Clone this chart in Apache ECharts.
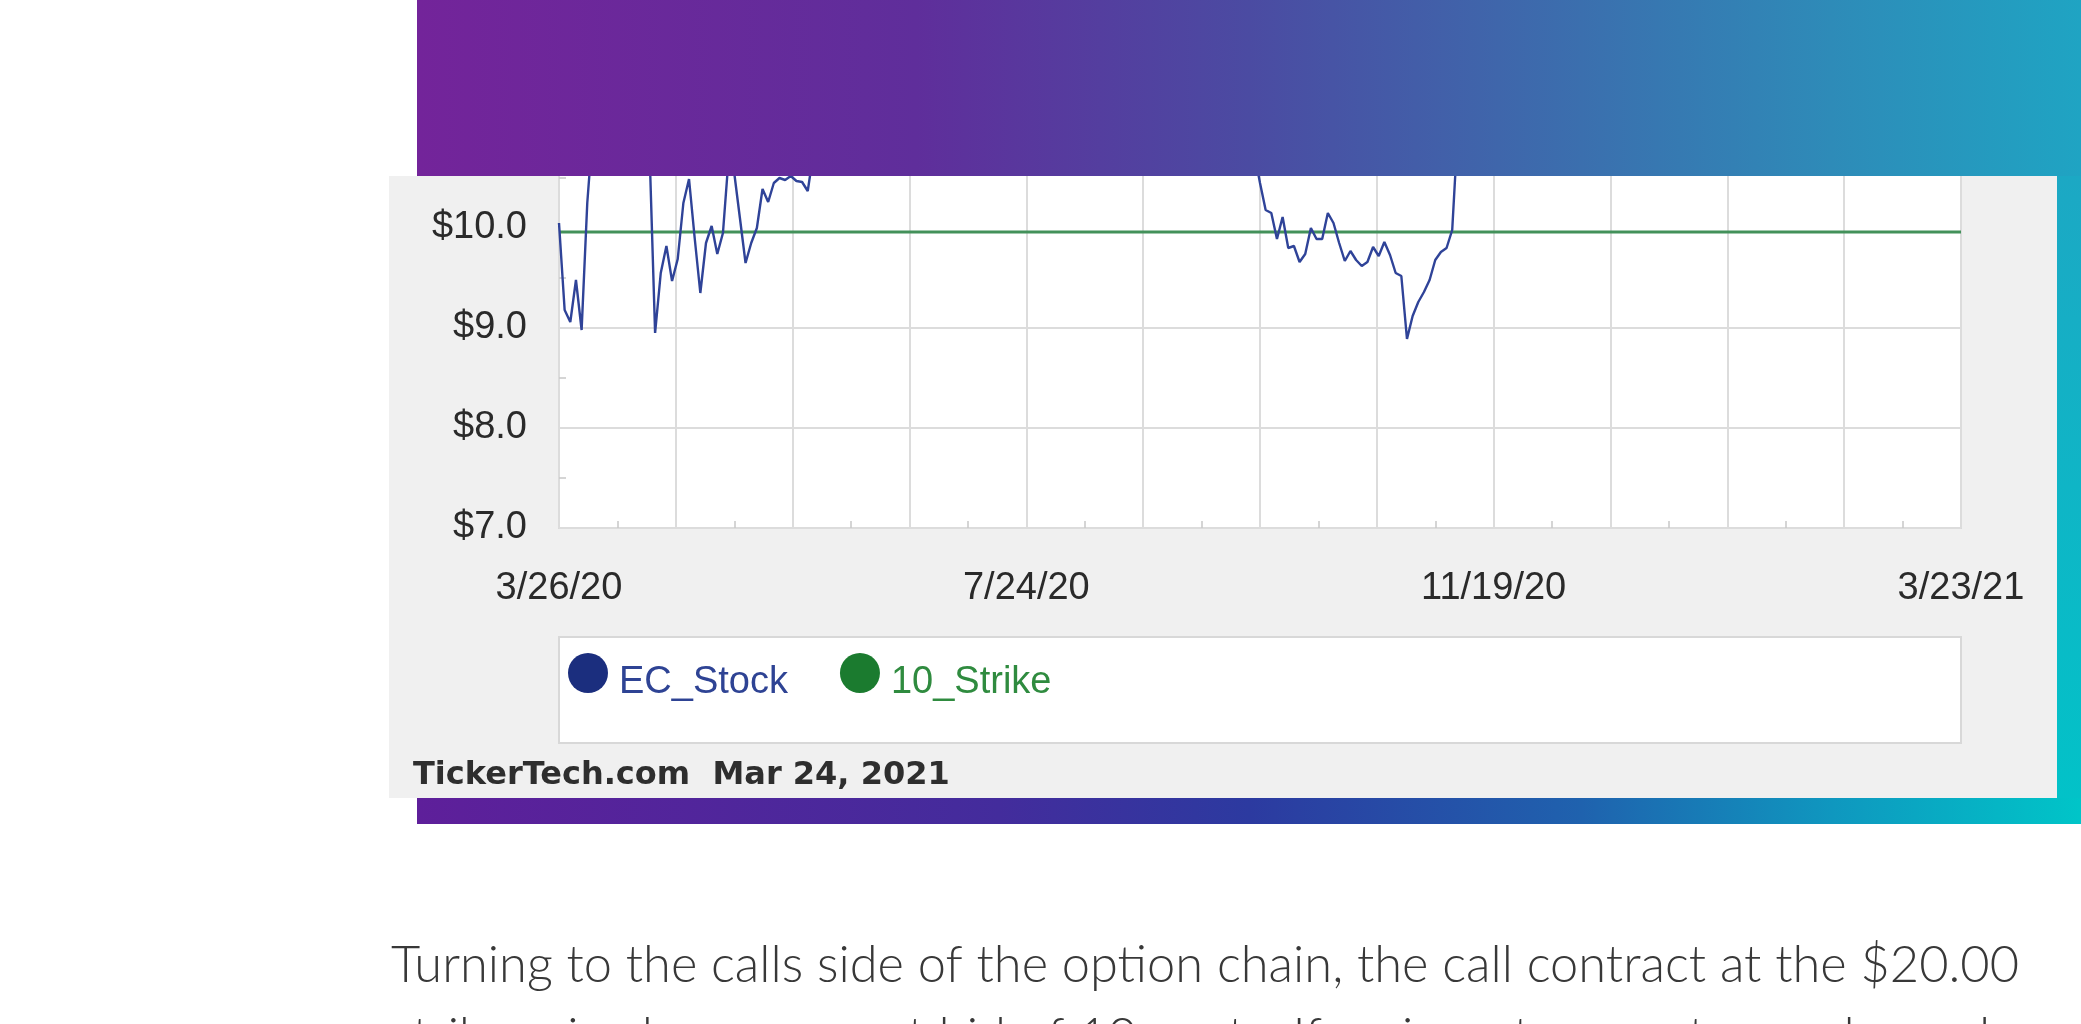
<!DOCTYPE html>
<html>
<head>
<meta charset="utf-8">
<title>EC_Stock vs 10_Strike</title>
<script src="https://cdn.jsdelivr.net/npm/echarts@6/dist/echarts.min.js"></script>
<style>
  html, body { margin: 0; padding: 0; background: #fff; overflow: hidden; }
  #chart { width: 2081px; height: 1024px; }
</style>
</head>
<body>
<div id="chart"></div>
<script>
// x labels sit on every 4th vertical grid line (12 sections in total)
const dateLabels = ['3/26/20', '7/24/20', '11/19/20', '3/23/21']
const priceTicks = [7, 8, 9, 10, 11, 12]
// drawn a hair under the $10 grid line in the picture
const strikePrice = 9.96
const legendNames = ['EC_Stock', '10_Strike']
const legendColors = ['#2e4394', '#2f8b3f']

// daily closes, 3/26/20 .. 3/23/21 (values above $10.5 are hidden behind the banner, estimated)
const stockPrices = [
  10.05, 9.18, 9.06, 9.48, 8.98, 10.25, 11.0, 11.4, 11.2, 11.6,
  11.9, 11.5, 11.8, 12.1, 11.7, 11.3, 10.8, 8.95, 9.55, 9.82,
  9.47, 9.69, 10.25, 10.49, 9.9, 9.35, 9.85, 10.02, 9.74, 9.95,
  10.7, 10.55, 10.1, 9.65, 9.85, 10.0, 10.39, 10.26, 10.45, 10.5,
  10.48, 10.52, 10.47, 10.46, 10.37, 10.75, 11.1, 11.3, 11.6, 11.4,
  11.8, 12.2, 12.0, 12.5, 12.8, 12.6, 12.9, 13.2, 12.8, 12.4,
  12.1, 12.3, 11.9, 12.0, 11.7, 11.8, 12.1, 11.9, 11.6, 11.5,
  11.8, 11.6, 11.4, 11.7, 11.9, 11.6, 11.3, 11.5, 11.8, 12.0,
  11.7, 11.5, 11.6, 11.4, 11.2, 11.5, 11.7, 11.9, 11.6, 11.3,
  11.4, 11.6, 11.8, 11.5, 11.2, 11.0, 11.3, 11.5, 11.4, 11.1,
  11.2, 11.4, 11.0, 10.9, 11.1, 11.3, 11.2, 11.0, 10.8, 11.0,
  11.2, 11.1, 10.9, 10.8, 11.0, 10.9, 10.7, 10.9, 11.1, 10.9,
  10.8, 10.9, 10.7, 10.75, 10.45, 10.18, 10.15, 9.89, 10.11, 9.80,
  9.82, 9.66, 9.74, 10.0, 9.89, 9.89, 10.15, 10.05, 9.85, 9.67,
  9.77, 9.68, 9.62, 9.66, 9.81, 9.72, 9.86, 9.73, 9.55, 9.52,
  8.89, 9.12, 9.26, 9.36, 9.48, 9.68, 9.76, 9.80, 9.98, 11.0,
  11.4, 11.8, 11.6, 12.1, 12.3, 12.0, 12.4, 12.7, 12.5, 12.9,
  13.1, 12.8, 13.0, 13.3, 13.5, 13.2, 13.4, 13.6, 13.3, 13.1,
  13.4, 13.7, 13.9, 13.6, 13.8, 14.1, 13.9, 13.7, 14.0, 14.3,
  14.1, 13.8, 13.6, 13.9, 14.2, 14.0, 13.7, 13.5, 13.8, 14.0,
  13.7, 13.4, 13.6, 13.9, 13.8, 13.5, 13.3, 13.6, 13.8, 14.1,
  14.4, 14.2, 14.6, 14.9, 14.7, 14.5, 14.8, 15.1, 14.9, 14.6,
  14.3, 14.5, 14.2, 14.0, 13.8, 14.1, 13.9, 13.6, 13.8, 13.5,
  13.3, 13.6, 13.4, 13.2, 13.5, 13.3, 13.0, 13.2, 13.4, 13.1,
  12.9, 13.2, 13.0, 12.8, 13.1, 12.9, 12.7, 12.9, 12.8
]

const footerText = 'TickerTech.com  Mar 24, 2021'
const paragraphLines = [
  'Turning to the calls side of the option chain, the call contract at the $20.00',
  'strike price has a current bid of 10 cents. If an investor was to purchase shares of EC'
]

const lastIdx = stockPrices.length - 1
const sections = 12
const xStep = lastIdx / sections
const labelEvery = sections / (dateLabels.length - 1)

// squeeze the article text to the width it has in the page
const measureCtx = document.createElement('canvas').getContext('2d')
measureCtx.font = '300 52px Lato'
const textScale = 1628 / measureCtx.measureText(paragraphLines[0]).width

// no grey line under the strike line ($10 tick)
const hSplitColors = priceTicks.map(t => (t === 10 ? 'rgba(0,0,0,0)' : '#dcdcdc'))

const legendRich = {}
legendNames.forEach((n, i) => {
  legendRich['s' + i] = {
    fontFamily: 'Liberation Sans',
    fontSize: 38,
    color: legendColors[i],
    padding: [20, 0, 0, 0]
  }
})

const chart = echarts.init(document.getElementById('chart'))

const option = {
  backgroundColor: '#fff',
  animation: false,
  grid: {
    left: 559,
    right: 120,
    top: 28,
    bottom: 496,
    show: true,
    backgroundColor: '#fff',
    borderColor: '#d9d9d9',
    borderWidth: 2,
    outerBoundsMode: 'none'
  },
  legend: {
    left: 563,
    top: 648,
    icon: 'circle',
    itemWidth: 52,
    itemHeight: 40,
    itemGap: 52,
    selectedMode: false,
    formatter: name => '{s' + legendNames.indexOf(name) + '|' + name + '}',
    textStyle: { fontFamily: 'Liberation Sans', fontSize: 38, rich: legendRich },
    data: [
      { name: legendNames[0], itemStyle: { color: '#1b2e7e' } },
      { name: legendNames[1], itemStyle: { color: '#1b7b2f' } }
    ]
  },
  xAxis: {
    type: 'value',
    min: 0,
    max: lastIdx,
    interval: xStep,
    axisLine: { show: false },
    axisTick: { show: false, inside: true },
    minorTick: { show: true, splitNumber: 2, length: 7, lineStyle: { color: '#c8c8c8', width: 1.5 } },
    splitLine: { show: true, lineStyle: { color: '#dcdcdc', width: 2 } },
    axisLabel: {
      margin: 42,
      showMinLabel: true,
      showMaxLabel: true,
      fontFamily: 'Liberation Sans',
      fontSize: 38,
      color: '#2a2a2a',
      formatter: v => {
        const k = Math.round(v / xStep)
        return k % labelEvery === 0 ? dateLabels[k / labelEvery] : ''
      }
    }
  },
  yAxis: {
    type: 'value',
    min: priceTicks[0],
    max: priceTicks[priceTicks.length - 1],
    interval: 1,
    axisLine: { show: false },
    axisTick: { show: false, inside: true },
    minorTick: { show: true, splitNumber: 2, length: 7, lineStyle: { color: '#c8c8c8', width: 1.5 } },
    splitLine: { show: true, lineStyle: { color: hSplitColors, width: 2 } },
    axisLabel: {
      margin: 32,
      padding: [0, 0, 6, 0],
      fontFamily: 'Liberation Sans',
      fontSize: 38,
      color: '#2a2a2a',
      formatter: v => '$' + v.toFixed(1)
    }
  },
  series: [
    {
      name: legendNames[0],
      type: 'line',
      showSymbol: false,
      clip: true,
      color: '#2f4398',
      lineStyle: { color: '#2f4398', width: 2.4 },
      data: stockPrices.map((v, i) => [i, v]),
      z: 3
    },
    {
      name: legendNames[1],
      type: 'line',
      showSymbol: false,
      color: '#43915a',
      lineStyle: { color: '#43915a', width: 3 },
      data: [[0, strikePrice], [lastIdx, strikePrice]],
      z: 2
    }
  ],
  graphic: [
    {
      type: 'rect',
      z: -5,
      shape: { x: 389, y: 176, width: 1668, height: 622 },
      style: { fill: '#f0f0f0' }
    },
    {
      type: 'rect',
      z: -4,
      shape: { x: 559, y: 637, width: 1402, height: 106 },
      style: { fill: '#fff', stroke: '#d8d8d8', lineWidth: 2 }
    },
    {
      type: 'text',
      x: 413,
      y: 776,
      style: {
        text: footerText,
        fontFamily: 'DejaVu Sans',
        fontWeight: 'bold',
        fontSize: 32,
        fill: '#2e2e2e',
        verticalAlign: 'middle'
      }
    },
    {
      // gradient banner that covers the top of the chart
      type: 'rect',
      z: 100,
      shape: { x: 417, y: 0, width: 1664, height: 176 },
      style: {
        fill: new echarts.graphic.LinearGradient(0, 0, 1, 0, [
          { offset: 0, color: '#73249a' },
          { offset: 0.3, color: '#5f2e9b' },
          { offset: 0.5, color: '#4b4ba2' },
          { offset: 0.7, color: '#3b6fae' },
          { offset: 0.85, color: '#2e8bb8' },
          { offset: 1, color: '#1fa4c3' }
        ])
      }
    },
    {
      type: 'rect',
      z: 100,
      shape: { x: 417, y: 798, width: 1664, height: 26 },
      style: {
        fill: new echarts.graphic.LinearGradient(0, 0, 1, 0, [
          { offset: 0, color: '#5e1f9a' },
          { offset: 0.35, color: '#432c9c' },
          { offset: 0.5, color: '#2c3aa0' },
          { offset: 0.7, color: '#1f62ae' },
          { offset: 0.85, color: '#0f97bf' },
          { offset: 1, color: '#00c5c8' }
        ])
      }
    },
    {
      type: 'rect',
      z: 100,
      shape: { x: 2057, y: 176, width: 24, height: 622 },
      style: {
        fill: new echarts.graphic.LinearGradient(0, 0, 0, 1, [
          { offset: 0, color: '#1ca8c4' },
          { offset: 1, color: '#02c2c8' }
        ])
      }
    },
    {
      type: 'text',
      x: 391,
      y: 965,
      scaleX: textScale,
      style: {
        text: paragraphLines[0],
        fontFamily: 'Lato',
        fontWeight: 300,
        fontSize: 52,
        fill: '#383838',
        verticalAlign: 'middle'
      }
    },
    {
      type: 'text',
      x: 391,
      y: 1037,
      scaleX: textScale,
      style: {
        text: paragraphLines[1],
        fontFamily: 'Lato',
        fontWeight: 300,
        fontSize: 52,
        fill: '#383838',
        verticalAlign: 'middle'
      }
    }
  ]
}

chart.setOption(option)
</script>
</body>
</html>
